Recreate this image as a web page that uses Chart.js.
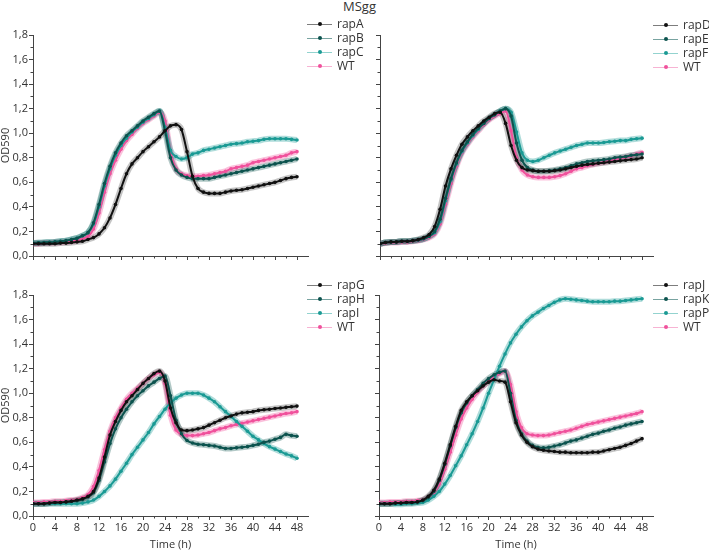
<!DOCTYPE html>
<html>
<head>
<meta charset="utf-8">
<script src="https://cdn.jsdelivr.net/npm/chart.js@4.4.1/dist/chart.umd.min.js"></script>
<style>
  body { margin: 0; background: #fff; width: 709px; height: 551px; position: relative; overflow: hidden; font-family: "Open Sans", sans-serif; }
  canvas { position: absolute; }
  #title { position: absolute; left: 343px; top: -2px; font-size: 13px; color: #333; line-height: 17px; }
  .legend { position: absolute; width: 60px; height: 60px; font-size: 12px; color: #333; }
  .legend .ln { position: absolute; left: 0; width: 25px; height: 1px; }
  .legend .dot { position: absolute; left: 11px; width: 4px; height: 4px; border-radius: 50%; }
  .legend .tx { position: absolute; left: 30px; height: 14px; line-height: 14px; white-space: nowrap; }
</style>
</head>
<body>
<div id="title">MSgg</div>
<canvas id="c1"></canvas>
<canvas id="c2"></canvas>
<canvas id="c3"></canvas>
<canvas id="c4"></canvas>
<div class="legend" id="l1"></div>
<div class="legend" id="l2"></div>
<div class="legend" id="l3"></div>
<div class="legend" id="l4"></div>
<script>
// time points (h)
const hours = [0,1,2,3,4,5,6,7,8,9,10,11,12,13,14,15,16,17,18,19,20,21,22,23,24,25,26,27,28,29,30,31,32,33,34,35,36,37,38,39,40,41,42,43,44,45,46,47,48];
const xTicks = [0,4,8,12,16,20,24,28,32,36,40,44,48];
const yTicks = [0,0.2,0.4,0.6,0.8,1.0,1.2,1.4,1.6,1.8];
const minorX = [2,6,10,14,18,22,26,30,34,38,42,46];
const minorY = [0.1,0.3,0.5,0.7,0.9,1.1,1.3,1.5,1.7];

// panel 1
const rapA = [.10,.10,.10,.10,.10,.105,.105,.11,.115,.12,.135,.15,.18,.23,.31,.42,.55,.67,.75,.80,.85,.89,.93,.97,1.02,1.06,1.07,1.03,.85,.65,.55,.52,.51,.51,.51,.52,.53,.535,.54,.55,.56,.57,.58,.59,.60,.615,.63,.64,.645];
const rapB = [.105,.107,.11,.112,.115,.12,.125,.135,.145,.165,.19,.27,.42,.59,.73,.84,.92,.98,1.02,1.06,1.10,1.13,1.16,1.18,1.02,.80,.70,.66,.64,.63,.63,.63,.63,.64,.65,.66,.67,.68,.69,.70,.71,.72,.73,.74,.75,.76,.77,.78,.79];
const rapC = [.105,.107,.11,.112,.115,.12,.125,.135,.145,.165,.19,.26,.40,.57,.71,.82,.90,.96,1.01,1.05,1.09,1.12,1.15,1.18,1.05,.86,.81,.79,.80,.83,.84,.86,.87,.88,.89,.90,.91,.915,.92,.93,.935,.94,.95,.955,.955,.955,.955,.95,.945];
const wt1 = [.10,.10,.105,.105,.11,.11,.115,.12,.13,.14,.16,.22,.35,.52,.67,.78,.87,.94,.99,1.04,1.08,1.11,1.14,1.17,1.10,.85,.71,.67,.655,.65,.65,.655,.66,.67,.68,.69,.71,.72,.73,.74,.76,.77,.78,.79,.80,.81,.82,.84,.85];

// panel 2
const rapD = [.10,.11,.115,.115,.12,.12,.125,.135,.15,.175,.24,.38,.57,.71,.82,.91,.97,1.02,1.06,1.10,1.13,1.16,1.17,1.08,.90,.78,.72,.70,.695,.69,.69,.69,.695,.70,.71,.72,.73,.74,.745,.75,.755,.76,.765,.77,.775,.78,.785,.79,.80];
const rapE = [.10,.11,.115,.115,.12,.12,.125,.13,.14,.16,.20,.30,.47,.63,.76,.86,.93,.99,1.04,1.08,1.12,1.15,1.18,1.20,1.14,.92,.78,.72,.70,.69,.69,.695,.70,.71,.72,.735,.75,.76,.77,.775,.78,.785,.79,.80,.805,.81,.82,.825,.83];
const rapF = [.10,.11,.115,.115,.12,.12,.125,.13,.14,.16,.19,.28,.45,.62,.75,.85,.92,.98,1.03,1.08,1.12,1.15,1.18,1.20,1.17,1.01,.84,.78,.77,.78,.80,.82,.84,.855,.87,.885,.90,.91,.92,.92,.92,.925,.93,.935,.94,.94,.95,.955,.96];
const wt2 = [.10,.105,.11,.11,.115,.115,.12,.125,.135,.15,.18,.26,.42,.59,.73,.84,.91,.97,1.02,1.07,1.11,1.14,1.16,1.18,1.02,.80,.70,.66,.645,.64,.64,.64,.645,.655,.67,.69,.71,.72,.735,.745,.755,.765,.775,.785,.795,.805,.815,.83,.845];

// panel 3
const rapG = [.10,.10,.10,.105,.11,.11,.115,.12,.13,.14,.16,.20,.31,.48,.66,.77,.86,.93,.98,1.03,1.08,1.12,1.16,1.18,1.10,.88,.76,.70,.695,.70,.71,.72,.74,.76,.78,.80,.815,.83,.84,.845,.85,.86,.865,.87,.875,.88,.885,.89,.895];
const rapH = [.10,.10,.10,.105,.11,.11,.115,.12,.125,.135,.155,.19,.29,.44,.59,.71,.80,.87,.93,.98,1.02,1.06,1.09,1.12,1.14,.98,.78,.67,.615,.595,.585,.58,.575,.57,.56,.55,.55,.555,.56,.565,.575,.585,.60,.61,.625,.64,.665,.655,.65];
const rapI = [.10,.10,.10,.10,.10,.10,.10,.10,.10,.105,.115,.13,.16,.20,.245,.30,.365,.43,.50,.56,.62,.68,.75,.81,.87,.92,.96,.985,1.00,1.00,1.00,.985,.96,.93,.89,.85,.81,.77,.73,.69,.65,.62,.59,.565,.545,.525,.505,.49,.47];
const wt3 = [.11,.11,.115,.115,.12,.12,.125,.13,.135,.15,.175,.24,.37,.54,.69,.80,.88,.95,1.00,1.04,1.08,1.12,1.15,1.17,1.08,.82,.70,.665,.655,.655,.66,.67,.68,.695,.71,.72,.735,.745,.755,.765,.775,.785,.795,.805,.815,.825,.835,.84,.85];

// panel 4
const rapJ = [.10,.10,.10,.105,.105,.11,.11,.115,.13,.16,.21,.30,.43,.58,.73,.86,.93,.98,1.02,1.06,1.09,1.11,1.10,1.09,.93,.76,.66,.60,.565,.545,.535,.53,.525,.52,.52,.515,.515,.515,.515,.52,.52,.53,.54,.55,.56,.575,.59,.61,.63];
const rapK = [.10,.10,.10,.105,.105,.11,.11,.115,.125,.15,.20,.29,.42,.57,.72,.84,.92,.98,1.03,1.08,1.12,1.15,1.17,1.18,1.00,.78,.67,.61,.575,.56,.555,.56,.57,.58,.595,.61,.62,.635,.65,.665,.675,.69,.70,.715,.725,.74,.75,.76,.77];
const rapP = [.10,.10,.10,.095,.095,.10,.10,.105,.11,.13,.16,.20,.26,.33,.41,.49,.58,.67,.77,.88,1.00,1.11,1.22,1.32,1.41,1.48,1.54,1.59,1.63,1.66,1.69,1.715,1.74,1.76,1.77,1.765,1.76,1.755,1.75,1.745,1.745,1.745,1.745,1.75,1.75,1.755,1.76,1.765,1.77];
const wt4 = [.11,.11,.115,.115,.115,.12,.12,.125,.13,.15,.19,.26,.38,.52,.66,.79,.88,.95,1.01,1.06,1.10,1.13,1.16,1.18,1.07,.85,.72,.67,.66,.655,.655,.66,.67,.68,.69,.70,.715,.73,.745,.755,.765,.775,.785,.795,.805,.815,.825,.835,.85];

// colours: solid marker, band, legend line
const palette = [
  { solid: '#111111', band: 'rgba(70,70,70,0.32)', line: '#7d7d7d' },
  { solid: '#0c534e', band: 'rgba(12,83,78,0.32)', line: '#78a3a0' },
  { solid: '#1a9a94', band: 'rgba(26,154,148,0.35)', line: '#93d3cf' },
  { solid: '#f0519c', band: 'rgba(240,81,156,0.35)', line: '#f7b3d3' }
];

const FONT = 'Open Sans';
const AX = '#444';

const minorTicks = {
  id: 'minorTicks',
  afterDraw(chart) {
    const { ctx, chartArea: a, scales: { x, y } } = chart;
    ctx.save();
    ctx.strokeStyle = AX;
    ctx.lineWidth = 1;
    ctx.beginPath();
    minorX.forEach(v => {
      const px = Math.round(x.getPixelForValue(v)) + 0.5;
      ctx.moveTo(px, a.bottom); ctx.lineTo(px, a.bottom + 2.5);
    });
    minorY.forEach(v => {
      const py = Math.round(y.getPixelForValue(v)) + 0.5;
      ctx.moveTo(a.left, py); ctx.lineTo(a.left - 2.5, py);
    });
    ctx.stroke();
    ctx.restore();
  }
};

function panel(p) {
  const cv = document.getElementById(p.id);
  cv.width = p.w; cv.height = p.h;
  cv.style.left = p.left + 'px'; cv.style.top = p.top + 'px';
  cv.style.width = p.w + 'px'; cv.style.height = p.h + 'px';

  const bands = p.series.map((vals, i) => ({
    label: p.names[i] + ' band',
    data: hours.map((h, k) => ({ x: h, y: vals[k] })),
    borderColor: palette[i].band,
    borderWidth: 6,
    pointRadius: 0,
    cubicInterpolationMode: 'monotone',
    order: 2
  }));
  const cores = p.series.map((vals, i) => ({
    label: p.names[i],
    data: hours.map((h, k) => ({ x: h, y: vals[k] })),
    borderColor: palette[i].solid,
    borderWidth: 2,
    pointRadius: 1.8,
    pointBorderWidth: 0,
    pointBackgroundColor: palette[i].solid,
    cubicInterpolationMode: 'monotone',
    order: 1
  }));

  new Chart(cv, {
    type: 'line',
    data: { datasets: cores.concat(bands) },
    options: {
      responsive: false,
      animation: false,
      devicePixelRatio: 1,
      layout: { padding: { top: 10, right: 3, left: 0, bottom: 0 } },
      plugins: { legend: { display: false }, tooltip: { enabled: false } },
      scales: {
        x: {
          type: 'linear', min: 0, max: 50,
          afterBuildTicks: s => { s.ticks = xTicks.map(v => ({ value: v })); },
          afterFit: s => { s.height = p.xh; },
          ticks: { display: p.showX, color: '#333', padding: 1, maxRotation: 0, autoSkip: false, font: { family: FONT, size: 11 } },
          grid: { drawOnChartArea: false, tickLength: 4, tickColor: AX },
          border: { color: AX, width: 1 },
          title: { display: p.showX, text: 'Time (h)', color: '#333', padding: { top: 0, bottom: 0 }, font: { family: FONT, size: 11 } }
        },
        y: {
          min: 0, max: 1.8,
          afterBuildTicks: s => { s.ticks = yTicks.map(v => ({ value: v })); },
          afterFit: s => { s.width = p.yw; },
          ticks: { display: p.showY, color: '#333', padding: 1, font: { family: FONT, size: 11 },
                   callback: v => v.toFixed(1).replace('.', ',') },
          grid: { drawOnChartArea: false, tickLength: 4, tickColor: AX },
          border: { color: AX, width: 1 },
          title: { display: p.showY, text: 'OD590', color: '#333', padding: { top: 0, bottom: 0 }, font: { family: FONT, size: 11, lineHeight: 1 } }
        }
      }
    },
    plugins: [minorTicks]
  });

  const lg = document.getElementById(p.legend);
  lg.style.left = p.lgLeft + 'px';
  lg.style.top = p.lgTop + 'px';
  p.names.forEach((n, i) => {
    const cy = i * p.lgStep;
    lg.insertAdjacentHTML('beforeend',
      '<span class="ln" style="top:' + cy + 'px;background:' + palette[i].line + '"></span>' +
      '<span class="dot" style="top:' + (cy - 2) + 'px;background:' + palette[i].solid + '"></span>' +
      '<span class="tx" style="top:' + (cy - 7) + 'px">' + n + '</span>');
  });
}

panel({ id: 'c1', legend: 'l1', left: 0, top: 25, w: 312, h: 240, yw: 33, xh: 9, showX: false, showY: true,
        names: ['rapA', 'rapB', 'rapC', 'WT'], series: [rapA, rapB, rapC, wt1], lgLeft: 307, lgTop: 24, lgStep: 14.1 });
panel({ id: 'c2', legend: 'l2', left: 360, top: 25, w: 297, h: 240, yw: 20, xh: 9, showX: false, showY: false,
        names: ['rapD', 'rapE', 'rapF', 'WT'], series: [rapD, rapE, rapF, wt2], lgLeft: 653, lgTop: 25, lgStep: 14 });
panel({ id: 'c3', legend: 'l3', left: 0, top: 285, w: 312, h: 266, yw: 33, xh: 35, showX: true, showY: true,
        names: ['rapG', 'rapH', 'rapI', 'WT'], series: [rapG, rapH, rapI, wt3], lgLeft: 307, lgTop: 285, lgStep: 13.9 });
panel({ id: 'c4', legend: 'l4', left: 360, top: 285, w: 297, h: 266, yw: 19, xh: 35, showX: true, showY: false,
        names: ['rapJ', 'rapK', 'rapP', 'WT'], series: [rapJ, rapK, rapP, wt4], lgLeft: 653, lgTop: 285, lgStep: 13.9 });
</script>
</body>
</html>
